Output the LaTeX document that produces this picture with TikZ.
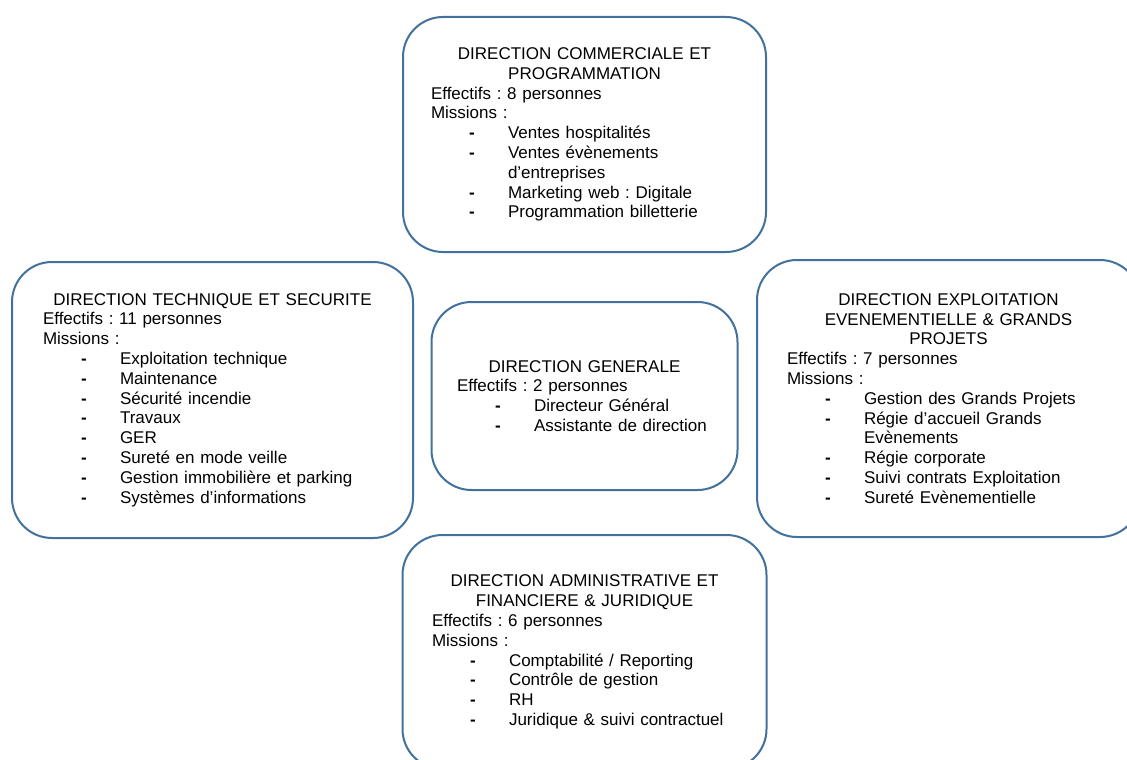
\documentclass[tikz,border=0pt]{standalone}
\usepackage{fontspec}
\setmainfont{Liberation Sans}
\frenchspacing

\definecolor{bordure}{HTML}{41719C}

\newcommand{\ligne}[1]{\makebox[\linewidth][l]{#1}}
\newcommand{\tiret}[1]{\makebox[\linewidth][l]{\makebox[77pt][l]{\hspace{38pt}\textbf{-}}#1}}
\newcommand{\suite}[1]{\makebox[\linewidth][l]{\hspace{77pt}#1}}

\begin{document}
\begin{tikzpicture}[x=1pt, y=-1pt,
    direction/.style={draw=bordure, line width=2pt, rounded corners=40pt, fill=white,
        inner sep=0pt, align=center, font=\fontsize{17}{19.8}\selectfont}]
    \useasboundingbox (0,0) rectangle (1127,760);

    \node (DG) [direction, minimum width=306pt, minimum height=188pt, text width=255pt] at (584.5,396) {
        DIRECTION GENERALE\\
        \ligne{Effectifs : 2 personnes}\\
        \tiret{Directeur Général}\\
        \tiret{Assistante de direction}};

    \node (DCP) [direction, minimum width=363pt, minimum height=235pt, text width=307pt] at (584.5,134.5) {
        DIRECTION COMMERCIALE ET\\
        PROGRAMMATION\\
        \ligne{Effectifs : 8 personnes}\\
        \ligne{Missions :}\\
        \tiret{Ventes hospitalités}\\
        \tiret{Ventes évènements}\\
        \suite{d’entreprises}\\
        \tiret{Marketing web : Digitale}\\
        \tiret{Programmation billetterie}};

    \node (DTS) [direction, minimum width=401pt, minimum height=276pt, text width=339pt] at (212.5,400) {
        DIRECTION TECHNIQUE ET SECURITE\\
        \ligne{Effectifs : 11 personnes}\\
        \ligne{Missions :}\\
        \tiret{Exploitation technique}\\
        \tiret{Maintenance}\\
        \tiret{Sécurité incendie}\\
        \tiret{Travaux}\\
        \tiret{GER}\\
        \tiret{Sureté en mode veille}\\
        \tiret{Gestion immobilière et parking}\\
        \tiret{Systèmes d’informations}};

    \node (DEGP) [direction, minimum width=383pt, minimum height=277pt, text width=323pt] at (948.5,398.5) {
        DIRECTION EXPLOITATION\\
        EVENEMENTIELLE \& GRANDS\\
        PROJETS\\
        \ligne{Effectifs : 7 personnes}\\
        \ligne{Missions :}\\
        \tiret{Gestion des Grands Projets}\\
        \tiret{Régie d’accueil Grands}\\
        \suite{Evènements}\\
        \tiret{Régie corporate}\\
        \tiret{Suivi contrats Exploitation}\\
        \tiret{Sureté Evènementielle}};

    \node (DAFJ) [direction, minimum width=364pt, minimum height=234pt, text width=305pt] at (584.5,652) {
        DIRECTION ADMINISTRATIVE ET\\
        FINANCIERE \& JURIDIQUE\\
        \ligne{Effectifs : 6 personnes}\\
        \ligne{Missions :}\\
        \tiret{Comptabilité / Reporting}\\
        \tiret{Contrôle de gestion}\\
        \tiret{RH}\\
        \tiret{Juridique \& suivi contractuel}};
\end{tikzpicture}
\end{document}
